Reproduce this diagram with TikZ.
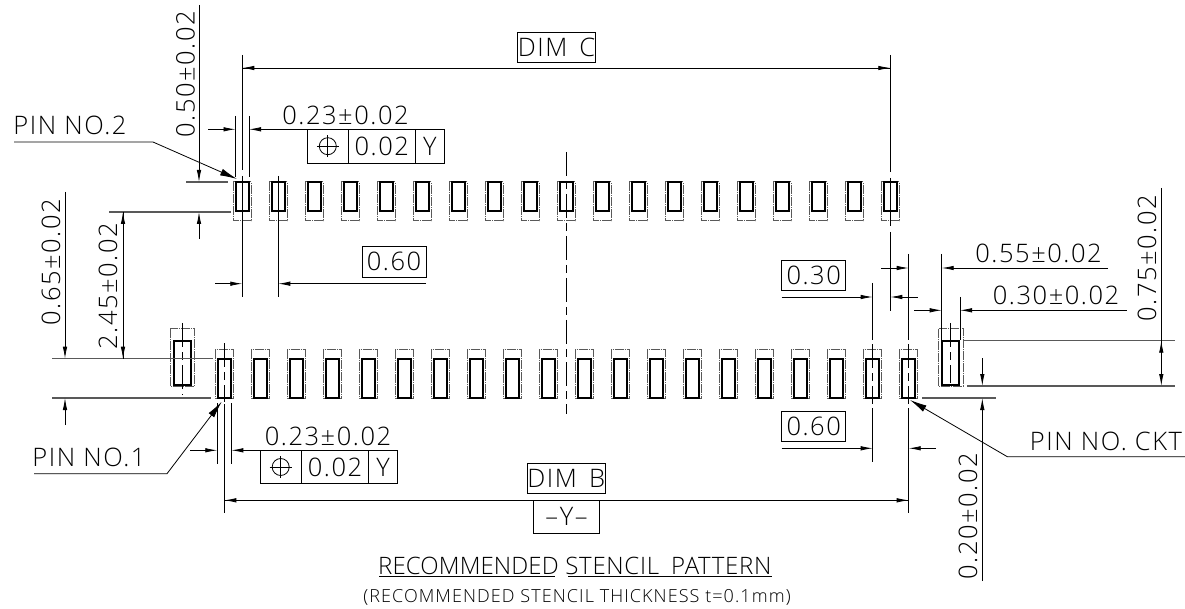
\documentclass[tikz,border=0pt]{standalone}
\usepackage{fontspec}
\usetikzlibrary{arrows.meta}
\newfontfamily\dimfont[LetterSpace=6]{Open Sans Light}
\newfontfamily\titlefont[LetterSpace=0.5]{Open Sans Light}
\newfontfamily\stencilfont[LetterSpace=3]{Open Sans Light}
\tikzset{
    padsolid/.style = {rectangle, draw=black, line width=2pt, inner sep=0pt, minimum width=13.6pt, minimum height=29pt},
    padside/.style = {rectangle, draw=black, line width=2pt, inner sep=0pt, minimum width=17pt, minimum height=44pt},
    stencil/.style = {draw=black!65, line width=1pt, dash pattern=on 9pt off 1pt on 1pt off 1pt},
    centerline/.style = {line width=0.8pt, dash pattern=on 24pt off 5pt on 8pt off 5pt},
    extline/.style = {line width=0.8pt},
    baseline/.style = {line width=1.1pt, draw=black!65},
    dimline/.style = {line width=0.8pt, -{Latex[length=12pt,width=4.5pt]}},
    leader/.style = {line width=0.8pt, -{Latex[length=17pt,width=7pt]}},
    dimtext/.style = {inner sep=0pt, font=\dimfont\fontsize{25.5}{28}\selectfont},
    smalltext/.style = {inner sep=0pt, font=\dimfont\fontsize{18}{22}\selectfont},
    dimbox/.style = {rectangle, draw=black, line width=0.8pt, inner sep=0pt, font=\dimfont\fontsize{25.5}{28}\selectfont}
}
\begin{document}
\begin{tikzpicture}[x=1pt,y=-1pt]
\useasboundingbox (0,0) rectangle (1185,609);
%
% top row
\foreach \i in {0,...,18} {
  \pgfmathsetmacro\px{242.3+36*\i}
  \draw[stencil] (\px-9,182) rectangle (\px+9,221);
  \node[padsolid] at (\px,197) (t\i) {};
}
% bottom row
\foreach \i in {0,...,19} {
  \pgfmathsetmacro\px{224.3+36*\i}
  \draw[stencil] (\px-9,349.5) rectangle (\px+9,398);
  \node[padsolid, minimum height=38.5pt] at (\px,378.5) (b\i) {};
}
% side pads
\draw[stencil] (170.3,328.5) rectangle (194.7,386);
\node[padside] at (182.3,363.3) (sl) {};
\draw[stencil] (938.7,328.5) rectangle (963.3,386);
\node[padside] at (950.7,363.3) (sr) {};
%
% center lines
\draw[centerline] (566.3,152) -- (566.3,414);
\draw[centerline] (182.3,323) -- (182.3,395);
\draw[centerline] (950.7,323) -- (950.7,383);
\draw[centerline] (224.3,343) -- (224.3,402);
\draw[centerline] (872.7,344) -- (872.7,404);
\draw[centerline] (908.7,344) -- (908.7,404);
%
% extension lines
\draw[extline] (242.3,55) -- (242.3,170) (242.3,176) -- (242.3,297);
\draw[extline] (278.3,176) -- (278.3,297);
\draw[extline] (890.3,55) -- (890.3,172) (890.3,178) -- (890.3,226) (890.3,232) -- (890.3,311);
\draw[extline] (235.5,116) -- (235.5,177);
\draw[extline] (249,116) -- (249,177);
\draw[extline] (217.3,403) -- (217.3,464);
\draw[extline] (231.3,403) -- (231.3,464);
\draw[extline] (224.3,404) -- (224.3,513);
\draw[extline] (908.7,254) -- (908.7,340);
\draw[extline] (908.7,408) -- (908.7,513);
\draw[extline] (872.7,283) -- (872.7,340);
\draw[extline] (872.7,408) -- (872.7,462);
\draw[extline] (941.7,254) -- (941.7,340);
\draw[extline] (960,297) -- (960,340);
%
\draw[baseline] (186,182) -- (228,182);
\draw[baseline] (109,212) -- (231,212);
\draw[baseline] (52,358.7) -- (213,358.7);
\draw[baseline] (52,398) -- (211,398);
\draw[baseline] (963,340.7) -- (1175,340.7);
\draw[baseline] (967,386) -- (1175,386);
\draw[baseline] (922,398) -- (996,398);
%
% dim c and dim b
\node[dimbox, minimum width=76pt, minimum height=30pt] at (556.5,47.5) (dimc) {DIM\hspace{4pt} C};
\draw[dimline, {Latex[length=12pt,width=4.5pt]}-] (242.3,68) -- (890.3,68);
\draw[dimline] (242.3,68) -- (890.3,68);
\node[dimbox, minimum width=76pt, minimum height=30pt] at (566.3,478.5) (dimb) {DIM\hspace{4pt} B};
\node[dimbox, minimum width=66pt, minimum height=33pt] at (566.5,516.7) (daty) {–Y–};
\draw[dimline, {Latex[length=12pt,width=4.5pt]}-] (224.3,500.3) -- (908.7,500.3);
\draw[dimline] (224.3,500.3) -- (908.7,500.3);
%
% vertical dimensions
\node[dimtext, rotate=90] at (185.5,74) (d050) {0.50±0.02};
\draw[dimline] (199,5) -- (199,182);
\draw[dimline] (199,239) -- (199,212);
\node[dimtext, rotate=90] at (51,262) (d065) {0.65±0.02};
\draw[dimline] (65,192) -- (65,358.7);
\draw[dimline] (65,425) -- (65,398);
\node[dimtext, rotate=90] at (108,286) (d245) {2.45±0.02};
\draw[dimline, {Latex[length=12pt,width=4.5pt]}-] (123,212) -- (123,358.7);
\draw[dimline] (123,212) -- (123,358.7);
\node[dimtext, rotate=90] at (1147,258) (d075) {0.75±0.02};
\draw[dimline] (1161.3,188) -- (1161.3,386);
\draw[dimline] (1161.3,370) -- (1161.3,340.7);
\node[dimtext, rotate=90] at (968,516) (d020) {0.20±0.02};
\draw[dimline] (982.3,358) -- (982.3,386);
\draw[dimline] (982.3,581) -- (982.3,398);
%
% width of pin 2 with frame
\node[dimtext] at (345.5,115) (w2) {0.23±0.02};
\draw[dimline] (208,129.3) -- (235.5,129.3);
\draw[dimline] (307.3,129.3) -- (249,129.3);
\node[dimbox, minimum width=41pt, minimum height=33.7pt] at (327.8,146.2) (fa) {};
\node[dimbox, minimum width=67pt, minimum height=33.7pt] at (381.8,146.2) (fb) {0.02};
\node[dimbox, minimum width=29pt, minimum height=33.7pt] at (429.8,146.2) (fc) {Y};
\draw[extline] (fa.center) circle (8.5pt);
\draw[extline] ([xshift=-11pt]fa.center) -- ([xshift=11pt]fa.center);
\draw[extline] ([yshift=-11pt]fa.center) -- ([yshift=11pt]fa.center);
%
% width of pin 1 with frame
\node[dimtext] at (328,436.5) (w1) {0.23±0.02};
\draw[dimline] (190,450.3) -- (217.3,450.3);
\draw[dimline] (260,450.3) -- (231.3,450.3);
\node[dimbox, minimum width=41.3pt, minimum height=33.4pt] at (280.7,467) (ga) {};
\node[dimbox, minimum width=67.4pt, minimum height=33.4pt] at (335,467) (gb) {0.02};
\node[dimbox, minimum width=29pt, minimum height=33.4pt] at (383.2,467) (gc) {Y};
\draw[extline] (ga.center) circle (8.5pt);
\draw[extline] ([xshift=-11pt]ga.center) -- ([xshift=11pt]ga.center);
\draw[extline] ([yshift=-11pt]ga.center) -- ([yshift=11pt]ga.center);
%
% pitch dimensions
\node[dimbox, minimum width=64pt, minimum height=30.5pt] at (394,261.7) (p1) {0.60};
\draw[dimline] (215,283.7) -- (242.3,283.7);
\draw[dimline] (426,283.7) -- (278.3,283.7);
\node[dimbox, minimum width=64pt, minimum height=30pt] at (813.7,275.3) (p2) {0.30};
\draw[dimline] (781.7,297) -- (872.7,297);
\draw[dimline] (917.7,297) -- (890.3,297);
\draw[dimline] (881.3,268) -- (908.7,268);
\node[dimbox, minimum width=64pt, minimum height=30pt] at (813.7,426.7) (p3) {0.60};
\draw[dimline] (781.7,448.3) -- (872.7,448.3);
\draw[dimline] (935.7,448.3) -- (908.7,448.3);
%
% side pad dimensions
\node[dimtext] at (1038.5,253.5) (s055) {0.55±0.02};
\draw[dimline] (1108,268) -- (941.7,268);
\node[dimtext] at (1056,295) (s030) {0.30±0.02};
\draw[dimline] (1126.7,310.3) -- (960,310.3);
\draw[dimline] (914.3,310.3) -- (941.7,310.3);
%
% pin labels
\node[dimtext] at (70,125.5) (pin2) {PIN NO.2};
\draw[leader] (14,142) -- (153,142) -- (237,179);
\node[dimtext] at (89,457) (pin1) {PIN NO.1};
\draw[leader] (34,473.7) -- (167,473.7) -- (221.7,401.7);
\node[dimtext] at (1106,441) (pinc) {PIN NO. CKT};
\draw[leader] (1185,456.7) -- (1007.3,456.7) -- (910,400);
%
% title
\node[inner sep=0pt, anchor=base west, font=\titlefont\fontsize{24}{28}\selectfont] at (378,574) (title1) {RECOMMENDED};
\node[inner sep=0pt, anchor=base east, font=\stencilfont\fontsize{24}{28}\selectfont] at (771.7,574) (title2) {STENCIL\hspace{5pt} PATTERN};
\draw[extline] (379.3,576.7) -- (555,576.7);
\draw[extline] (568.3,576.7) -- (771.7,576.7);
\node[smalltext, anchor=base] at (577,602) (title3) {(RECOMMENDED STENCIL THICKNESS t=0.1mm)};
\end{tikzpicture}
\end{document}
